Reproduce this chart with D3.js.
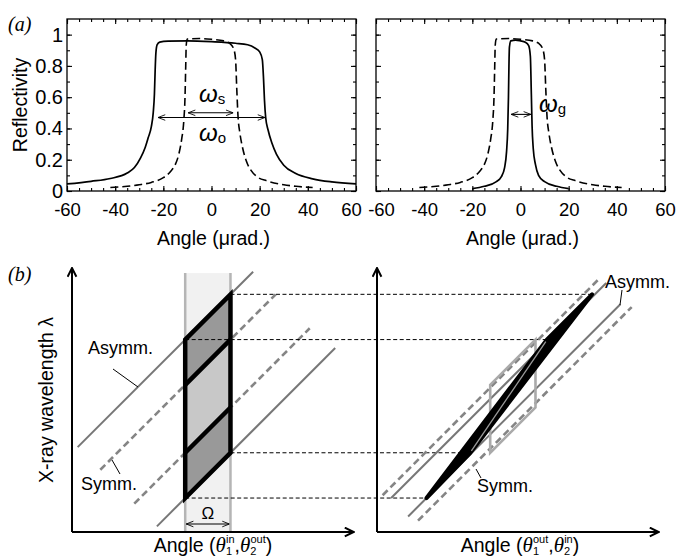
<!DOCTYPE html>
<html>
<head>
<meta charset="utf-8">
<script src="https://d3js.org/d3.v7.min.js"></script>
<style>
  body { margin: 0; background: #fff; }
  svg { font-family: "Liberation Sans", Arial, Helvetica, sans-serif; }
</style>
</head>
<body>
<div id="chart"></div>
<script>
// ---- (a) rocking curves : angle (urad) vs reflectivity ----
const angleTicks = [-60, -40, -20, 0, 20, 40, 60];
const reflTicks = [0, 0.2, 0.4, 0.6, 0.8, 1];

// asymmetric crystal, wide acceptance (omega_o), solid in left panel
const asymmInCurve = [
  [-60,0.045],[-50,0.062],[-42,0.08],[-35,0.115],[-32,0.15],[-29.5,0.21],[-27.5,0.28],
  [-26.3,0.34],[-25,0.41],[-24.2,0.5],[-23.7,0.62],[-23.4,0.77],[-23.1,0.88],[-22.6,0.935],
  [-21.5,0.952],[-18,0.958],[-10,0.96],[0,0.955],[10,0.945],[15,0.935],[18,0.915],[20,0.89],
  [21.1,0.84],[21.6,0.72],[22,0.58],[22.5,0.47],[23.5,0.39],[25,0.31],[27,0.235],[30,0.165],
  [35,0.112],[42,0.078],[50,0.058],[60,0.045]
];
// symmetric crystal (omega_s), dashed in both panels
const symmCurve = [
  [-42,0.022],[-35,0.03],[-30,0.04],[-25,0.055],[-20,0.085],[-17,0.125],[-15,0.17],
  [-13.5,0.24],[-12.4,0.33],[-11.5,0.45],[-11,0.6],[-10.7,0.8],[-10.5,0.93],[-10.1,0.972],
  [-5,0.975],[0,0.97],[5,0.96],[7.5,0.945],[9.2,0.91],[10,0.84],[10.5,0.65],[11,0.48],
  [11.8,0.37],[13,0.27],[14.5,0.19],[16.5,0.13],[19,0.09],[23,0.065],[30,0.04],[35,0.03],[42,0.022]
];
// asymmetric crystal, narrow exit (omega_g), solid in right panel
const asymmOutCurve = [
  [-20,0.015],[-15,0.03],[-10,0.06],[-8,0.09],[-6.6,0.15],[-5.8,0.25],[-5.3,0.4],[-5,0.6],
  [-4.8,0.8],[-4.6,0.92],[-4,0.96],[-2,0.965],[0,0.96],[2,0.952],[3.4,0.93],[4.1,0.86],
  [4.5,0.62],[4.8,0.42],[5.3,0.27],[6.2,0.17],[7.5,0.1],[10,0.06],[15,0.03],[20,0.015]
];

// widths marked with arrows: [from, to, reflectivity]
const omegaS = [-9.7, 9.0, 0.50];
const omegaO = [-22.2, 22.2, 0.47];
const omegaG = [-3.9, 4.3, 0.49];

// ---- (b) DuMond diagrams, arbitrary units ----
const bandX = [40, 56];          // angular acceptance Omega
const bandTop = 91.5;
// diagonal bands: [offset (lambda - angle), angle start, angle end]
const leftSolid = [[28, 2, 64], [-28, 30, 93]];
const leftDashed = [[12, 10, 72], [-12, 22, 84]];
const rightSolid = [[7, 5, 81], [-5.5, 11, 86]];
const rightDashed = [[11, 2, 78], [-10.5, 14.5, 90]];
// regions of the accepted parallelogram
const topRegion = [[40,68],[56,84],[56,68],[40,52]];
const midRegion = [[40,52],[56,68],[56,44],[40,28]];
const botRegion = [[40,28],[56,44],[56,28],[40,12]];
const outerRegion = [[40,68],[56,84],[56,28],[40,12]];
const innerEdges = [[[40,52],[56,68]], [[40,28],[56,44]]];
// transmitted shape after second crystal
const outShape = [[17.5,12],[33,28],[76,84],[60,68]];
// dashed links: [lambda, angle in left diagram, angle in right diagram]
const links = [[84,56,76],[68,40,60],[28,56,33],[12,40,17.5]];

const svg = d3.select("#chart").append("svg")
  .attr("width", 678).attr("height", 560);

const defs = svg.append("defs");
defs.append("marker").attr("id", "dimArrow")
  .attr("viewBox", "0 0 10 10").attr("refX", 10).attr("refY", 5)
  .attr("markerWidth", 8).attr("markerHeight", 8)
  .attr("markerUnits", "userSpaceOnUse").attr("orient", "auto-start-reverse")
  .append("path").attr("d", "M1,1.5 L10,5 L1,8.5")
  .attr("fill", "none").attr("stroke", "#000").attr("stroke-width", 1.1);
defs.append("marker").attr("id", "axArrow")
  .attr("viewBox", "0 0 10 10").attr("refX", 9).attr("refY", 5)
  .attr("markerWidth", 11).attr("markerHeight", 11)
  .attr("markerUnits", "userSpaceOnUse").attr("orient", "auto")
  .append("path").attr("d", "M1,1 L9,5 L1,9")
  .attr("fill", "none").attr("stroke", "#000").attr("stroke-width", 1.8);

const yA = d3.scaleLinear().domain([0, 1.1]).range([191, 19]);

function rockingPanel(x, solidCurve, showYLabels, nudge) {
  const g = svg.append("g");
  const [x0, x1] = x.range();
  const minorX = d3.range(-60, 61, 5);
  const minorY = d3.range(0, 1.05, 0.1);
  const style = (sel, fs) => {
    sel.select(".domain").remove();
    sel.attr("font-size", fs || 18.5).attr("font-family", null);
    sel.selectAll("line").attr("stroke-width", 1.1);
  };
  g.append("g").attr("transform", "translate(0,191)")
    .call(d3.axisBottom(x).tickValues(minorX).tickSize(-3).tickFormat("")).call(style);
  const bx = g.append("g").attr("transform", "translate(0,191)")
    .call(d3.axisBottom(x).tickValues(angleTicks).tickSize(-5).tickPadding(12).tickFormat(d => d))
    .call(style);
  // the two labels where the panels meet are pushed apart a little
  bx.selectAll("text").attr("dx", d => (d === nudge[0] ? nudge[1] : 0));
  g.append("g").attr("transform", "translate(0,19)")
    .call(d3.axisTop(x).tickValues(minorX).tickSize(-3).tickFormat("")).call(style);
  g.append("g").attr("transform", "translate(0,19)")
    .call(d3.axisTop(x).tickValues(angleTicks).tickSize(-5).tickFormat("")).call(style);
  g.append("g").attr("transform", `translate(${x0},0)`)
    .call(d3.axisLeft(yA).tickValues(minorY).tickSize(-3).tickFormat("")).call(style);
  g.append("g").attr("transform", `translate(${x0},0)`)
    .call(d3.axisLeft(yA).tickValues(reflTicks).tickSize(-5).tickPadding(4)
      .tickFormat(showYLabels ? (d => d) : "")).call(style, 20);
  g.append("g").attr("transform", `translate(${x1},0)`)
    .call(d3.axisRight(yA).tickValues(minorY).tickSize(-3).tickFormat("")).call(style);
  g.append("g").attr("transform", `translate(${x1},0)`)
    .call(d3.axisRight(yA).tickValues(reflTicks).tickSize(-5).tickFormat("")).call(style);

  g.append("rect").attr("x", x0).attr("y", 19).attr("width", x1 - x0).attr("height", 172)
    .attr("fill", "none").attr("stroke", "#000").attr("stroke-width", 1.3);

  const line = d3.line().x(d => x(d[0])).y(d => yA(d[1])).curve(d3.curveMonotoneX);
  g.append("path").attr("d", line(symmCurve)).attr("fill", "none")
    .attr("stroke", "#000").attr("stroke-width", 1.6).attr("stroke-dasharray", "8,4");
  g.append("path").attr("d", line(solidCurve)).attr("fill", "none")
    .attr("stroke", "#000").attr("stroke-width", 1.7);

  g.append("text").attr("x", (x0 + x1) / 2 + 2).attr("y", 245).attr("text-anchor", "middle")
    .attr("font-size", 19.5).text("Angle (\u03bcrad.)");
  return g;
}

function dimArrow(g, x, a) {
  g.append("line").attr("x1", x(a[0])).attr("x2", x(a[1]))
    .attr("y1", yA(a[2])).attr("y2", yA(a[2]))
    .attr("stroke", "#000").attr("stroke-width", 1.1)
    .attr("marker-start", "url(#dimArrow)").attr("marker-end", "url(#dimArrow)");
}
function omegaLabel(g, px, py, sub) {
  const t = g.append("text").attr("x", px).attr("y", py);
  t.append("tspan").attr("font-style", "italic").attr("font-size", 24).text("\u03c9");
  t.append("tspan").attr("font-size", 15).attr("dy", 2).text(sub);
}

const xA1 = d3.scaleLinear().domain([-60, 60]).range([67, 356]);
const xA2 = d3.scaleLinear().domain([-60, 60]).range([376, 665]);
const pA1 = rockingPanel(xA1, asymmInCurve, true, [60, -5]);
const pA2 = rockingPanel(xA2, asymmOutCurve, false, [-60, 5]);

dimArrow(pA1, xA1, omegaS);
dimArrow(pA1, xA1, omegaO);
dimArrow(pA2, xA2, omegaG);
omegaLabel(pA1, 199, 102, "s");
omegaLabel(pA1, 199, 141, "o");
omegaLabel(pA2, 539, 112, "g");

svg.append("text").attr("transform", "translate(27,105) rotate(-90)")
  .attr("text-anchor", "middle").attr("font-size", 19.5).text("Reflectivity");
svg.append("text").attr("x", 8).attr("y", 31).attr("font-family", "Liberation Serif, serif")
  .attr("font-style", "italic").attr("font-size", 20).text("(a)");
svg.append("text").attr("x", 8).attr("y", 281).attr("font-family", "Liberation Serif, serif")
  .attr("font-style", "italic").attr("font-size", 20).text("(b)");

// ---- (b) ----
const yB = d3.scaleLinear().domain([0, 93.3]).range([532, 268]);
const xL = d3.scaleLinear().domain([0, 100]).range([72, 355]);
const xR = d3.scaleLinear().domain([0, 100]).range([377, 660]);

function diagLines(g, x, lines, dashed) {
  lines.forEach(([c, a0, a1]) => {
    g.append("line").attr("x1", x(a0)).attr("y1", yB(a0 + c))
      .attr("x2", x(a1)).attr("y2", yB(a1 + c))
      .attr("stroke", dashed ? "#858585" : "#777").attr("stroke-width", dashed ? 2.6 : 2)
      .attr("stroke-dasharray", dashed ? "7,4" : null);
  });
}
function axesB(g, x) {
  g.append("line").attr("x1", x(0)).attr("y1", yB(0)).attr("x2", x(0)).attr("y2", yB(93.3))
    .attr("stroke", "#000").attr("stroke-width", 2).attr("marker-end", "url(#axArrow)");
  g.append("line").attr("x1", x(0)).attr("y1", yB(0)).attr("x2", x(99.5)).attr("y2", yB(0))
    .attr("stroke", "#000").attr("stroke-width", 2).attr("marker-end", "url(#axArrow)");
}
const poly = x => pts => "M" + pts.map(p => x(p[0]) + "," + yB(p[1])).join("L") + "Z";

// left diagram
const gL = svg.append("g");
gL.append("rect").attr("x", xL(bandX[0])).attr("y", yB(bandTop))
  .attr("width", xL(bandX[1]) - xL(bandX[0])).attr("height", yB(0) - yB(bandTop))
  .attr("fill", "#f1f1f1");
bandX.forEach(b => gL.append("line").attr("x1", xL(b)).attr("x2", xL(b))
  .attr("y1", yB(bandTop)).attr("y2", yB(0)).attr("stroke", "#b5b5b5").attr("stroke-width", 2.5));
diagLines(gL, xL, leftSolid, false);
diagLines(gL, xL, leftDashed, true);
[topRegion, botRegion].forEach(r => gL.append("path").attr("d", poly(xL)(r)).attr("fill", "#999"));
gL.append("path").attr("d", poly(xL)(midRegion)).attr("fill", "#c8c8c8");

// dashed links between the diagrams
links.forEach(([lam, a, b]) => svg.append("line")
  .attr("x1", xL(a)).attr("x2", xR(b)).attr("y1", yB(lam)).attr("y2", yB(lam))
  .attr("stroke", "#000").attr("stroke-width", 1).attr("stroke-dasharray", "4,2.5"));

gL.append("path").attr("d", poly(xL)(outerRegion)).attr("fill", "none")
  .attr("stroke", "#000").attr("stroke-width", 4.5).attr("stroke-linejoin", "miter");
innerEdges.forEach(e => gL.append("line")
  .attr("x1", xL(e[0][0])).attr("y1", yB(e[0][1])).attr("x2", xL(e[1][0])).attr("y2", yB(e[1][1]))
  .attr("stroke", "#000").attr("stroke-width", 4.5));
axesB(gL, xL);

// Omega width
gL.append("line").attr("x1", xL(bandX[0]) + 1).attr("x2", xL(bandX[1]) - 1)
  .attr("y1", 524).attr("y2", 524).attr("stroke", "#000").attr("stroke-width", 1.1)
  .attr("marker-start", "url(#dimArrow)").attr("marker-end", "url(#dimArrow)");
gL.append("text").attr("x", xL((bandX[0] + bandX[1]) / 2)).attr("y", 519)
  .attr("text-anchor", "middle").attr("font-size", 17).text("\u03a9");

gL.append("text").attr("x", 88).attr("y", 354).attr("font-size", 18).text("Asymm.");
gL.append("line").attr("x1", 113).attr("y1", 369).attr("x2", 138).attr("y2", 387)
  .attr("stroke", "#000").attr("stroke-width", 1);
gL.append("text").attr("x", 81).attr("y", 490).attr("font-size", 18).text("Symm.");
gL.append("line").attr("x1", 112).attr("y1", 460).attr("x2", 120).attr("y2", 474)
  .attr("stroke", "#000").attr("stroke-width", 1);

// right diagram
const gR = svg.append("g");
diagLines(gR, xR, rightDashed, true);
diagLines(gR, xR, rightSolid, false);
gR.append("path").attr("d", poly(xR)(midRegion)).attr("fill", "none")
  .attr("stroke", "#aaa").attr("stroke-width", 2.6);
gR.append("path").attr("d", poly(xR)(outShape)).attr("fill", "#000")
  .attr("stroke", "#000").attr("stroke-width", 4).attr("stroke-linejoin", "round");
gR.append("line").attr("x1", xR(outShape[1][0]) + 1).attr("y1", yB(outShape[1][1]) - 2)
  .attr("x2", xR(outShape[3][0]) - 1).attr("y2", yB(outShape[3][1]) + 2)
  .attr("stroke", "#9a9a9a").attr("stroke-width", 1.3);
axesB(gR, xR);

gR.append("text").attr("x", 605).attr("y", 288).attr("font-size", 18).text("Asymm.");
gR.append("line").attr("x1", 622).attr("y1", 290).attr("x2", 620).attr("y2", 305)
  .attr("stroke", "#000").attr("stroke-width", 1);
gR.append("text").attr("x", 477).attr("y", 492).attr("font-size", 18).text("Symm.");
gR.append("line").attr("x1", 476).attr("y1", 469).attr("x2", 481).attr("y2", 478)
  .attr("stroke", "#000").attr("stroke-width", 1);

// axis titles
function angleTitle(cx, s1, s2) {
  const t = svg.append("text").attr("x", cx).attr("y", 552).attr("text-anchor", "middle")
    .attr("font-size", 19.5);
  t.append("tspan").text("Angle (");
  t.append("tspan").attr("font-style", "italic").attr("font-family", "Liberation Serif, serif")
    .attr("font-size", 21).text("\u03b8");
  t.append("tspan").attr("font-size", 11).attr("dy", 3).text("1");
  t.append("tspan").attr("font-size", 11).attr("dx", -6).attr("dy", -12).text(s1);
  t.append("tspan").attr("dy", 9).text(",");
  t.append("tspan").attr("font-style", "italic").attr("font-family", "Liberation Serif, serif")
    .attr("font-size", 21).text("\u03b8");
  t.append("tspan").attr("font-size", 11).attr("dy", 3).text("2");
  t.append("tspan").attr("font-size", 11).attr("dx", -6).attr("dy", -12).text(s2);
  t.append("tspan").attr("dy", 9).text(")");
}
angleTitle(213, "in", "out");
angleTitle(520, "out", "in");

svg.append("text").attr("transform", "translate(53,400) rotate(-90)")
  .attr("text-anchor", "middle").attr("font-size", 19.5).text("X-ray wavelength \u03bb");
</script>
</body>
</html>
